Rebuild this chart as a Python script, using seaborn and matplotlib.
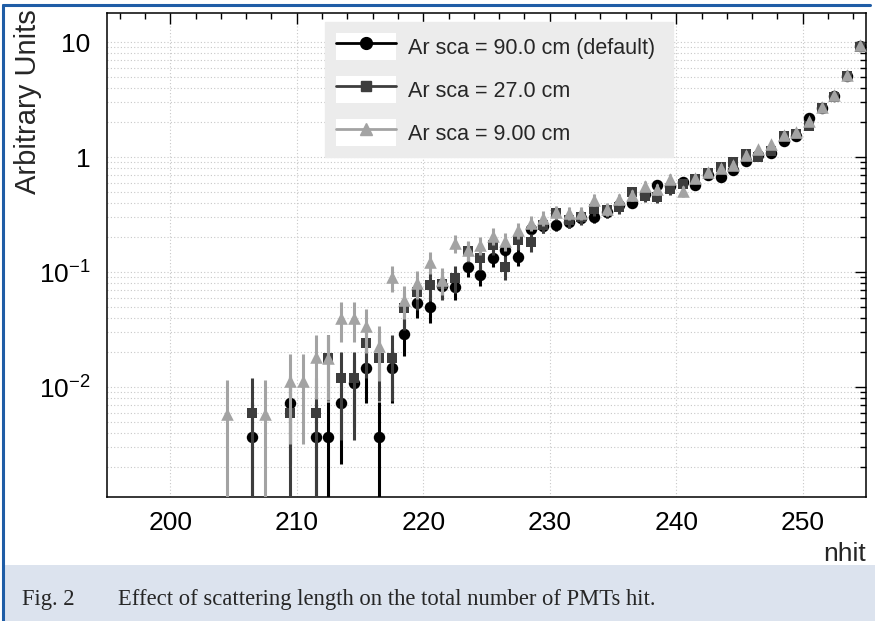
import numpy as np
import pandas as pd
import matplotlib
matplotlib.use("Agg")
import matplotlib.pyplot as plt
import seaborn as sns
from matplotlib.ticker import FixedLocator, FixedFormatter, LogLocator, MultipleLocator, NullFormatter
from matplotlib.lines import Line2D
from matplotlib.patches import Rectangle, Patch
from matplotlib.legend_handler import HandlerTuple

nan = np.nan

# ---------------- data ----------------
nhit_bins = [204.5, 205.5, 206.5, 207.5, 208.5, 209.5, 210.5, 211.5, 212.5, 213.5,
             214.5, 215.5, 216.5, 217.5, 218.5, 219.5, 220.5, 221.5, 222.5, 223.5,
             224.5, 225.5, 226.5, 227.5, 228.5, 229.5, 230.5, 231.5, 232.5, 233.5,
             234.5, 235.5, 236.5, 237.5, 238.5, 239.5, 240.5, 241.5, 242.5, 243.5,
             244.5, 245.5, 246.5, 247.5, 248.5, 249.5, 250.5, 251.5, 252.5, 253.5,
             254.5]

sca_90 = [nan, nan, 0.00367, nan, nan, 0.0073, nan, 0.00367, 0.00367, 0.0073,
          0.0108, 0.0146, 0.00367, 0.0146, 0.0289, 0.0538, 0.0496, 0.0756, 0.0741, 0.111,
          0.0942, 0.132, 0.155, 0.135, 0.237, 0.251, 0.256, 0.272, 0.295, 0.301,
          0.332, 0.383, 0.398, 0.477, 0.571, 0.56, 0.606, 0.571, 0.698, 0.670,
          0.771, 0.923, 1.04, 1.08, 1.38, 1.52, 2.18, 2.67, 3.39, 5.06,
          9.23]

sca_27 = [nan, nan, 0.00597, nan, nan, 0.00597, nan, 0.00597, 0.0179, 0.0119,
          0.0119, 0.0239, 0.0179, 0.0179, 0.0486, 0.067, 0.0771, 0.0787, 0.0887, 0.152,
          0.132, 0.172, 0.111, 0.19, 0.182, 0.256, 0.326, 0.283, 0.301, 0.353,
          0.346, 0.367, 0.496, 0.458, 0.449, 0.527, 0.582, 0.644, 0.726, 0.819,
          0.905, 1.06, 1.0, 1.13, 1.52, 1.585, 1.86, 2.67, 3.32, 5.06,
          9.05]

sca_9 = [0.0058, nan, nan, 0.0058, nan, 0.0113, 0.0113, 0.0182, 0.0179, 0.0398,
         0.0398, 0.0339, 0.0227, 0.0905, 0.0571, 0.0802, 0.122, 0.0852, 0.179, 0.155,
         0.172, 0.206, 0.186, 0.232, 0.267, 0.295, 0.332, 0.326, 0.326, 0.423,
         0.353, 0.431, 0.467, 0.56, 0.527, 0.644, 0.506, 0.657, 0.741, 0.802,
         0.852, 1.04, 1.17, 1.30, 1.55, 1.65, 2.06, 2.72, 3.46, 5.16,
         9.42]

# weight of a single event in each sample (Poisson error bars)
unit_90 = 0.00366
unit_27 = 0.00597
unit_9 = 0.0058

series_labels = ["Ar sca = 90.0 cm (default)", "Ar sca = 27.0 cm", "Ar sca = 9.00 cm"]
x_ticks = [200, 210, 220, 230, 240, 250]
y_ticks = [0.01, 0.1, 1, 10]
y_tick_labels = [r"$10^{-2}$", r"$10^{-1}$", "1", "10"]
x_label = "nhit"
y_label = "Arbitrary Units"
caption_num = "Fig. 2"
caption_text = "Effect of scattering length on the total number of PMTs hit."

# ---------------- style ----------------
sns.set_theme(style="white")
plt.rcParams["font.family"] = ["Liberation Sans", "DejaVu Sans"]
plt.rcParams["mathtext.fontset"] = "custom"
plt.rcParams["mathtext.rm"] = "Liberation Sans"
plt.rcParams["mathtext.it"] = "Liberation Sans:italic"
plt.rcParams["mathtext.bf"] = "Liberation Sans:bold"

colors = ["#000000", "#3d3d3d", "#a3a3a3"]
markers = ["o", "s", "^"]
sizes = [68, 60, 82]
leg_ms = [8.5, 7.5, 8.5]

frames = []
for vals, unit, lab in [(sca_90, unit_90, series_labels[0]),
                        (sca_27, unit_27, series_labels[1]),
                        (sca_9, unit_9, series_labels[2])]:
    d = pd.DataFrame({"nhit": nhit_bins, "value": vals})
    d = d.dropna()
    err = np.sqrt(d["value"] * unit)
    d["lo"] = np.minimum(err, d["value"] - 1e-7)
    d["hi"] = err
    d["sample"] = lab
    frames.append(d)
df = pd.concat(frames, ignore_index=True)

fig = plt.figure(figsize=(8.75, 6.21), dpi=100)
ax = fig.add_axes([107 / 875, 1 - 497 / 621, 759 / 875, 484 / 621])
ax.set_yscale("log")

for i, lab in enumerate(series_labels):
    sub = df[df["sample"] == lab]
    ax.errorbar(sub["nhit"], sub["value"], yerr=[sub["lo"], sub["hi"]], fmt="none",
                ecolor=colors[i], elinewidth=2.2, capsize=0, zorder=3 + 2 * i)
    sns.scatterplot(data=sub, x="nhit", y="value", marker=markers[i], color=colors[i],
                    s=sizes[i], edgecolor=colors[i], linewidth=0, ax=ax, legend=False,
                    zorder=4 + 2 * i)

ax.set_xlim(195, 255)
ax.set_ylim(0.001105, 17.9)

ax.xaxis.set_major_locator(FixedLocator(x_ticks))
ax.xaxis.set_minor_locator(MultipleLocator(2))
ax.yaxis.set_major_locator(FixedLocator(y_ticks))
ax.yaxis.set_major_formatter(FixedFormatter(y_tick_labels))
ax.yaxis.set_minor_locator(LogLocator(base=10, subs=np.arange(2, 10)))
ax.yaxis.set_minor_formatter(NullFormatter())

ax.tick_params(axis="both", which="both", direction="in", top=True, right=True,
               colors="black", width=1.0)
ax.tick_params(axis="both", which="major", length=8)
ax.tick_params(axis="both", which="minor", length=4.5)
ax.tick_params(axis="x", which="major", labelsize=19, pad=10)
ax.tick_params(axis="y", which="major", labelsize=19, pad=12)

for sp in ax.spines.values():
    sp.set_color("black")
    sp.set_linewidth(1.1)

ax.set_axisbelow(True)
ax.grid(False)
ax.grid(which="major", axis="x", color="#c8c8c8", linestyle=(0, (1, 2)), linewidth=0.8)
ax.grid(which="both", axis="y", color="#c8c8c8", linestyle=(0, (1, 2)), linewidth=0.8)

ax.set_xlabel(x_label, fontsize=19, loc="right")
ax.xaxis.set_label_coords(1.0, -0.092)
ax.set_ylabel(y_label, fontsize=21, loc="top")
ax.yaxis.set_label_coords(-0.085, 1.008)

# legend with white boxes behind the samples
handles = []
for i in range(3):
    handles.append((Patch(facecolor="white", edgecolor="none"),
                    Line2D([], [], color=colors[i], lw=2, marker=markers[i],
                           markersize=leg_ms[i], markeredgecolor=colors[i])))
leg = ax.legend(handles, series_labels, handler_map={tuple: HandlerTuple(ndivide=1, pad=0)},
                loc="upper left", bbox_to_anchor=(0.287, 0.5, 0.4585, 0.481), mode="expand",
                borderaxespad=0, fontsize=15.5, handlelength=2.8, handleheight=1.55,
                handletextpad=0.55, labelspacing=0.75, borderpad=0.5, frameon=True,
                fancybox=False, framealpha=1, facecolor="#ececec", edgecolor="#ececec")
leg.set_zorder(20)

# page decoration: blue frame and caption band
fig.patches.append(Rectangle((4 / 875, 0), 1, 56 / 621, transform=fig.transFigure,
                             facecolor="#dce3ee", edgecolor="none", zorder=0))
fig.add_artist(Line2D([3 / 875, 3 / 875], [0, 1 - 5 / 621], transform=fig.transFigure,
                      color="#1f5da6", lw=2.2))
fig.add_artist(Line2D([3 / 875, 870 / 875], [1 - 5 / 621, 1 - 5 / 621],
                      transform=fig.transFigure, color="#1f5da6", lw=2.2))
fig.text(22 / 875, 1 - 600 / 621, caption_num, family=["Liberation Serif", "DejaVu Serif"],
         fontsize=16.3, va="center", ha="left")
fig.text(118 / 875, 1 - 600 / 621, caption_text, family=["Liberation Serif", "DejaVu Serif"],
         fontsize=16.3, va="center", ha="left")

fig.savefig("out.png", dpi=100)
